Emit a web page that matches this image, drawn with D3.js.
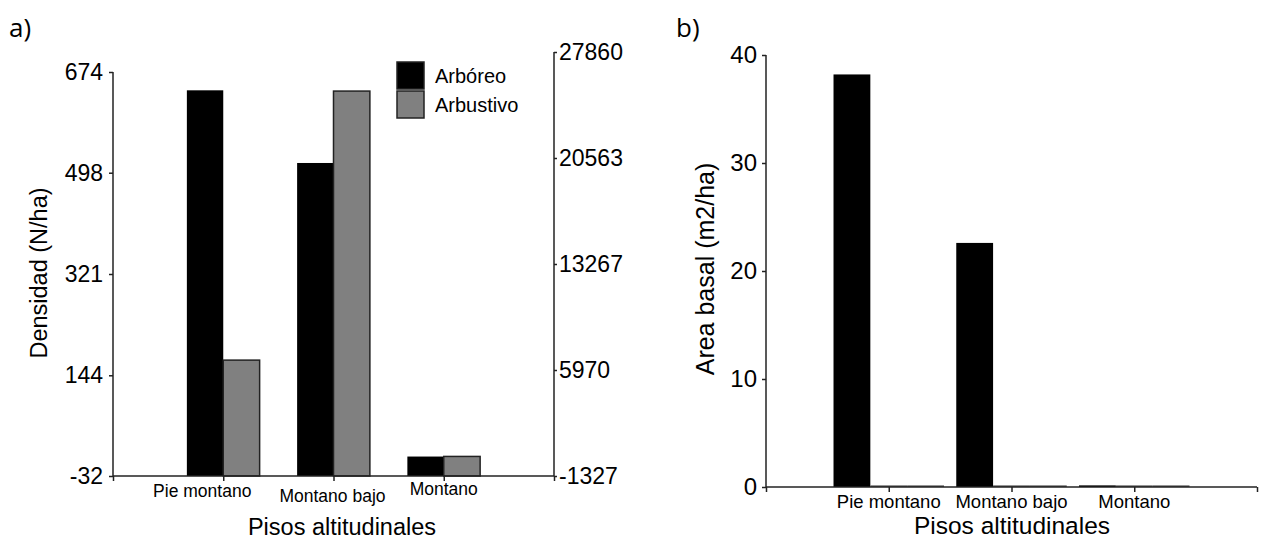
<!DOCTYPE html>
<html>
<head>
<meta charset="utf-8">
<script src="https://cdn.jsdelivr.net/npm/d3@7"></script>
<style>
  body { margin: 0; background: #fff; }
  svg { display: block; font-family: "Liberation Sans", Arial, sans-serif; }
</style>
</head>
<body>
<svg width="1261" height="542"></svg>
<script>
// categories and values
var pisos = ["Pie montano", "Montano bajo", "Montano"]
var series = ["Arbóreo", "Arbustivo"]
var densArboreo = [642, 515, 2]          // left axis, N/ha
var densArbustivo = [6650, 25170, 20]    // right axis, N/ha
var leftTicks = [-32, 144, 321, 498, 674]
var rightTicks = [-1327, 5970, 13267, 20563, 27860]

var areaBasal = [38.2, 22.6, 0.15]
var areaOtros1 = [0.15, 0.15, 0.15]
var areaOtros2 = [0.15, 0.15, 0.15]
var areaTicks = [0, 10, 20, 30, 40]

var svg = d3.select("svg")
var ink = "#222"
var plain = (d) => String(d)   // keep the ASCII hyphen for negatives

//---------------- panel a ----------------
var xa = d3.scaleLinear().domain([0, 4]).range([113, 554])
var yl = d3.scaleLinear().domain([-32, 674]).range([476, 72])
var yr = d3.scaleLinear().domain([-1327, 27860]).range([476, 52])
var bwA = xa(0.33) - xa(0)

var ga = svg.append("g")

pisos.forEach(function (p, i) {
    var cx = xa(i + 1)
    ga.append("rect")
        .attr("x", cx - bwA).attr("width", bwA)
        .attr("y", yl(densArboreo[i])).attr("height", yl(-32) - yl(densArboreo[i]))
        .attr("fill", "#000")
    ga.append("rect")
        .attr("x", cx).attr("width", bwA)
        .attr("y", yr(densArbustivo[i])).attr("height", yr(-1327) - yr(densArbustivo[i]))
        .attr("fill", "#808080").attr("stroke", ink).attr("stroke-width", 1.5)
})

var axL = ga.append("g").attr("transform", "translate(113,0)")
    .call(d3.axisLeft(yl).tickValues(leftTicks).tickSize(4).tickPadding(6).tickFormat(plain))
var axR = ga.append("g").attr("transform", "translate(554,0)")
    .call(d3.axisRight(yr).tickValues(rightTicks).tickSize(3).tickPadding(2).tickFormat(plain))
var axB = ga.append("g").attr("transform", "translate(0,476)")
    .call(d3.axisBottom(xa).tickValues([0, 1, 2, 3, 4]).tickSize(5).tickFormat(""))
;[axL, axR, axB].forEach(function (a) {
    a.selectAll("path,line").attr("stroke", ink).attr("stroke-width", 1.5)
    a.selectAll("text").attr("font-size", 23).attr("fill", "#000")
        .attr("font-family", "Liberation Sans, Arial, sans-serif")
})
axB.select(".domain").attr("d", "M113,0H554")
axL.select(".domain").attr("d", "M0," + yl(674) + "V" + yl(-32))
axR.select(".domain").attr("d", "M0," + yr(27860) + "V" + yr(-1327))

// category labels (slightly staggered like the original)
var labOff = [[-21, 21], [-1, 26], [0, 19]]
pisos.forEach(function (p, i) {
    ga.append("text")
        .attr("x", xa(i + 1) + labOff[i][0]).attr("y", 476 + labOff[i][1])
        .attr("text-anchor", "middle").attr("font-size", 17.5)
        .text(p)
})

ga.append("text").attr("x", 342).attr("y", 535)
    .attr("text-anchor", "middle").attr("font-size", 23.5)
    .text("Pisos altitudinales")
ga.append("text")
    .attr("transform", "translate(47,273) rotate(-90)")
    .attr("text-anchor", "middle").attr("font-size", 23.5)
    .text("Densidad (N/ha)")

// legend
var colors = ["#000", "#808080"]
series.forEach(function (s, i) {
    var y = 62 + i * 29
    ga.append("rect").attr("x", 397).attr("y", y).attr("width", 27).attr("height", 27)
        .attr("fill", colors[i]).attr("stroke", ink).attr("stroke-width", 1.5)
    ga.append("text").attr("x", 435).attr("y", y + 21)
        .attr("font-size", 20).text(s)
})

svg.append("text").attr("x", 9).attr("y", 37)
    .attr("font-family", "Open Sans, Noto Sans, sans-serif").attr("font-size", 26)
    .text("a)")

//---------------- panel b ----------------
var xb = d3.scaleLinear().domain([0, 4]).range([766, 1257])
var yb = d3.scaleLinear().domain([0, 40]).range([487, 55])
var bwB = xb(0.3) - xb(0)

var gb = svg.append("g")
var areaSeries = [areaBasal, areaOtros1, areaOtros2]
pisos.forEach(function (p, i) {
    areaSeries.forEach(function (arr, j) {
        var x0 = xb(i + 1 - 0.45 + j * 0.3)
        var h = Math.max(yb(0) - yb(arr[i]), 1.5)
        gb.append("rect")
            .attr("x", x0).attr("width", bwB)
            .attr("y", yb(0) - h).attr("height", h)
            .attr("fill", j === 0 ? "#000" : "#555")
    })
})

var axBL = gb.append("g").attr("transform", "translate(766,0)")
    .call(d3.axisLeft(yb).tickValues(areaTicks).tickSize(4).tickPadding(5))
var axBB = gb.append("g").attr("transform", "translate(0,487)")
    .call(d3.axisBottom(xb).tickValues([0, 1, 2, 3, 4]).tickSize(5).tickFormat(""))
;[axBL, axBB].forEach(function (a) {
    a.selectAll("path,line").attr("stroke", ink).attr("stroke-width", 1.5)
    a.selectAll("text").attr("font-size", 24).attr("fill", "#000")
        .attr("font-family", "Liberation Sans, Arial, sans-serif")
})
axBL.select(".domain").attr("d", "M0," + yb(40) + "V" + yb(0))
axBB.select(".domain").attr("d", "M766,0H1257")

pisos.forEach(function (p, i) {
    gb.append("text")
        .attr("x", xb(i + 1)).attr("y", 508)
        .attr("text-anchor", "middle").attr("font-size", 18.5)
        .text(p)
})
gb.append("text").attr("x", 1012).attr("y", 534)
    .attr("text-anchor", "middle").attr("font-size", 24.5)
    .text("Pisos altitudinales")
gb.append("text")
    .attr("transform", "translate(714,269) rotate(-90)")
    .attr("text-anchor", "middle").attr("font-size", 25)
    .text("Area basal (m2/ha)")

svg.append("text").attr("x", 676).attr("y", 37)
    .attr("font-family", "Open Sans, Noto Sans, sans-serif").attr("font-size", 26)
    .text("b)")
</script>
</body>
</html>
